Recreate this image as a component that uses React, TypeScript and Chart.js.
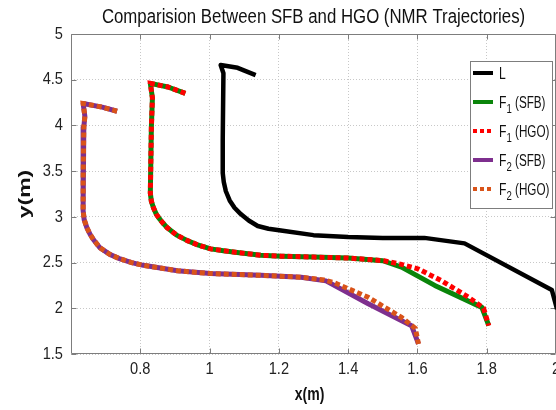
import React, { useEffect, useRef } from "react";
import { Chart, registerables } from "chart.js";

Chart.register(...registerables);

const titleText = "Comparision Between SFB and HGO (NMR Trajectories)";
const xAxisLabel = "x(m)";
const yAxisLabel = "y(m)";
const xTickValues = [0.8, 1, 1.2, 1.4, 1.6, 1.8, 2];
const yTickValues = [1.5, 2, 2.5, 3, 3.5, 4, 4.5, 5];

// L trajectory
const lX = [1.133, 1.081, 1.032, 1.04, 1.038, 1.038, 1.041, 1.047, 1.058, 1.072, 1.09, 1.113, 1.139, 1.17, 1.206, 1.3, 1.4, 1.5, 1.62, 1.736, 1.988, 2.003];
const lY = [4.55, 4.63, 4.66, 4.57, 3.84, 3.48, 3.38, 3.28, 3.18, 3.1, 3.03, 2.96, 2.9, 2.87, 2.85, 2.8, 2.78, 2.77, 2.77, 2.71, 2.2, 1.99];

// F1 (SFB)
const f1sX = [0.93, 0.88, 0.829, 0.835, 0.832, 0.829, 0.832, 0.838, 0.846, 0.855, 0.866, 0.878, 0.905, 0.936, 0.968, 1.003, 1.04, 1.08, 1.148, 1.206, 1.3, 1.4, 1.5, 1.554, 1.65, 1.786, 1.806];
const f1sY = [4.35, 4.42, 4.46, 4.3, 3.98, 3.26, 3.17, 3.1, 3.03, 2.98, 2.93, 2.88, 2.8, 2.74, 2.69, 2.65, 2.63, 2.61, 2.58, 2.57, 2.56, 2.55, 2.52, 2.45, 2.25, 2.01, 1.81];

// F1 (HGO)
const f1hX = [0.93, 0.88, 0.829, 0.835, 0.832, 0.829, 0.832, 0.838, 0.846, 0.855, 0.866, 0.878, 0.905, 0.936, 0.968, 1.003, 1.04, 1.08, 1.148, 1.206, 1.3, 1.4, 1.504, 1.554, 1.603, 1.67, 1.748, 1.791, 1.806];
const f1hY = [4.35, 4.42, 4.46, 4.3, 3.98, 3.26, 3.17, 3.1, 3.03, 2.98, 2.93, 2.88, 2.8, 2.74, 2.69, 2.65, 2.63, 2.61, 2.58, 2.57, 2.56, 2.55, 2.52, 2.48, 2.43, 2.3, 2.12, 2.0, 1.81];

// F2 (SFB)
const f2sX = [0.733, 0.69, 0.635, 0.64, 0.637, 0.635, 0.635, 0.638, 0.646, 0.655, 0.665, 0.684, 0.712, 0.742, 0.775, 0.809, 0.907, 1.003, 1.148, 1.264, 1.336, 1.458, 1.583, 1.603];
const f2sY = [4.155, 4.2, 4.24, 4.1, 3.98, 3.43, 3.07, 2.97, 2.88, 2.81, 2.75, 2.66, 2.59, 2.54, 2.5, 2.47, 2.41, 2.38, 2.36, 2.34, 2.3, 2.05, 1.81, 1.61];

// F2 (HGO)
const f2hX = [0.733, 0.69, 0.635, 0.64, 0.637, 0.635, 0.635, 0.638, 0.646, 0.655, 0.665, 0.684, 0.712, 0.742, 0.775, 0.809, 0.907, 1.003, 1.148, 1.264, 1.33, 1.36, 1.458, 1.554, 1.594, 1.603];
const f2hY = [4.155, 4.2, 4.24, 4.1, 3.98, 3.43, 3.07, 2.97, 2.88, 2.81, 2.75, 2.66, 2.59, 2.54, 2.5, 2.47, 2.41, 2.38, 2.36, 2.34, 2.31, 2.28, 2.12, 1.9, 1.78, 1.61];

const legendMain = ["L", "F", "F", "F", "F"];
const legendSub = ["", "1", "1", "2", "2"];
const legendRest = ["", " (SFB)", " (HGO)", " (SFB)", " (HGO)"];

const BLACK = "#000000";
const GREEN = "#0a850a";
const RED = "#ff0000";
const PURPLE = "#7e2f8e";
const ORANGE = "#d95319";
const legendColors = [BLACK, GREEN, RED, PURPLE, ORANGE];
const legendDash: number[][] = [[], [], [4, 3], [], [4, 3]];

const SANS = "'Liberation Sans', Arial, sans-serif";

function pts(xs: number[], ys: number[]) {
  return xs.map((x, i) => ({ x, y: ys[i] }));
}

function drawText(
  ctx: CanvasRenderingContext2D,
  text: string,
  x: number,
  y: number,
  font: string,
  sx: number,
  align: CanvasTextAlign,
  baseline: CanvasTextBaseline,
  color: string
) {
  ctx.save();
  ctx.translate(x, y);
  ctx.scale(sx, 1);
  ctx.font = font;
  ctx.textAlign = align;
  ctx.textBaseline = baseline;
  ctx.fillStyle = color;
  ctx.fillText(text, 0, 0);
  const w = ctx.measureText(text).width * sx;
  ctx.restore();
  return w;
}

const decorPlugin = {
  id: "decor",
  beforeDatasetsDraw(chart: any) {
    const { ctx, chartArea: a, scales } = chart;
    ctx.save();
    ctx.strokeStyle = "#7d7d7d";
    ctx.lineWidth = 1;
    ctx.setLineDash([]);
    const l = Math.round(a.left) + 0.5;
    const r = Math.round(a.right) - 0.5;
    const t = Math.round(a.top) + 0.5;
    const b = Math.round(a.bottom) - 0.5;
    ctx.beginPath();
    ctx.moveTo(l, t);
    ctx.lineTo(r, t);
    ctx.lineTo(r, b);
    ctx.lineTo(l, b);
    ctx.closePath();
    for (const v of xTickValues) {
      const px = Math.round(scales.x.getPixelForValue(v)) + 0.5;
      ctx.moveTo(px, b);
      ctx.lineTo(px, b - 5);
      ctx.moveTo(px, t);
      ctx.lineTo(px, t + 5);
    }
    for (const v of yTickValues) {
      const py = Math.round(scales.y.getPixelForValue(v)) + 0.5;
      ctx.moveTo(l, py);
      ctx.lineTo(l + 5, py);
      ctx.moveTo(r, py);
      ctx.lineTo(r - 5, py);
    }
    ctx.stroke();
    ctx.restore();

    // tick labels from the library's scales
    const tickFont = `17px ${SANS}`;
    for (const v of xTickValues) {
      const px = scales.x.getPixelForValue(v);
      drawText(ctx, String(v), px, a.bottom + 15, tickFont, 0.86, "center", "middle", "#222");
    }
    for (const v of yTickValues) {
      const py = scales.y.getPixelForValue(v);
      drawText(ctx, String(v), a.left - 8, py, tickFont, 0.86, "right", "middle", "#222");
    }
  },
  afterDraw(chart: any) {
    const { ctx, chartArea: a } = chart;
    ctx.save();
    // title
    drawText(ctx, titleText, (a.left + a.right) / 2, 23, `20px ${SANS}`, 0.84, "center", "alphabetic", "#111");
    // x title
    drawText(ctx, xAxisLabel, (a.left + a.right) / 2 - 4, 400, `bold 19px ${SANS}`, 0.74, "center", "alphabetic", "#111");

    // y title (rotated, compressed in thickness)
    ctx.save();
    ctx.translate(a.left - 45, (a.top + a.bottom) / 2);
    ctx.rotate(-Math.PI / 2);
    ctx.scale(1, 0.7);
    ctx.font = `bold 23px ${SANS}`;
    ctx.fillStyle = "#111";
    ctx.textAlign = "center";
    ctx.textBaseline = "middle";
    ctx.fillText(yAxisLabel, 0, 0);
    ctx.restore();

    // legend
    const bx = 470;
    const by = 61;
    const bw = 82;
    const bh = 147;
    ctx.fillStyle = "#ffffff";
    ctx.fillRect(bx, by, bw, bh);
    ctx.strokeStyle = "#7d7d7d";
    ctx.lineWidth = 1;
    ctx.strokeRect(bx + 0.5, by + 0.5, bw, bh);
    for (let i = 0; i < legendMain.length; i++) {
      const y = by + 12 + i * 29;
      ctx.beginPath();
      ctx.strokeStyle = legendColors[i];
      ctx.lineWidth = 4;
      ctx.setLineDash(legendDash[i]);
      ctx.moveTo(bx + 3, y);
      ctx.lineTo(bx + 23, y);
      ctx.stroke();
      ctx.setLineDash([]);
      let x = bx + 29;
      x += drawText(ctx, legendMain[i], x, y + 6, `16px ${SANS}`, 0.76, "left", "alphabetic", "#111");
      if (legendSub[i]) {
        x += drawText(ctx, legendSub[i], x, y + 11, `12px ${SANS}`, 0.8, "left", "alphabetic", "#111");
        drawText(ctx, legendRest[i], x, y + 6, `16px ${SANS}`, 0.73, "left", "alphabetic", "#111");
      }
    }
    ctx.restore();
  },
};

export default function App() {
  const ref = useRef<HTMLCanvasElement | null>(null);
  useEffect(() => {
    const canvas = ref.current;
    if (!canvas) return;
    const common = { pointRadius: 0, pointHoverRadius: 0, fill: false, tension: 0 };
    const chart = new Chart(canvas, {
      type: "scatter",
      data: {
        datasets: [
          { label: "L", data: pts(lX, lY), showLine: true, borderColor: BLACK, borderWidth: 4.5, order: 3, borderJoinStyle: "round", ...common },
          { label: "F1 (SFB)", data: pts(f1sX, f1sY), showLine: true, borderColor: GREEN, borderWidth: 5, order: 2, borderJoinStyle: "round", ...common },
          { label: "F1 (HGO)", data: pts(f1hX, f1hY), showLine: true, borderColor: RED, borderWidth: 5, borderDash: [5, 3], order: 1, ...common },
          { label: "F2 (SFB)", data: pts(f2sX, f2sY), showLine: true, borderColor: PURPLE, borderWidth: 5, order: 2, borderJoinStyle: "round", ...common },
          { label: "F2 (HGO)", data: pts(f2hX, f2hY), showLine: true, borderColor: ORANGE, borderWidth: 5, borderDash: [5, 3], order: 1, ...common },
        ],
      },
      options: {
        responsive: false,
        animation: false,
        devicePixelRatio: 1,
        layout: { padding: { top: 34, left: 0, right: 0, bottom: 0 } },
        plugins: {
          legend: { display: false },
          title: { display: false },
          tooltip: { enabled: false },
        },
        scales: {
          x: {
            type: "linear",
            min: 0.6,
            max: 2.0,
            afterBuildTicks: (s: any) => {
              s.ticks = xTickValues.map((v) => ({ value: v }));
            },
            afterFit: (s: any) => {
              s.height = 56;
              s.paddingLeft = 0;
              s.paddingRight = 0;
            },
            grid: { color: "#c8c8c8", lineWidth: 1, drawTicks: false },
            border: { display: false, dash: [1, 2] },
            ticks: { display: false },
          },
          y: {
            type: "linear",
            min: 1.5,
            max: 5,
            afterBuildTicks: (s: any) => {
              s.ticks = yTickValues.map((v) => ({ value: v }));
            },
            afterFit: (s: any) => {
              s.width = 71;
              s.paddingTop = 0;
              s.paddingBottom = 0;
            },
            grid: { color: "#c8c8c8", lineWidth: 1, drawTicks: false },
            border: { display: false, dash: [1, 2] },
            ticks: { display: false },
          },
        },
      },
      plugins: [decorPlugin],
    });
    return () => chart.destroy();
  }, []);
  return (
    <div style={{ position: "fixed", left: 0, top: 0, width: 556, height: 410, overflow: "hidden", background: "#fff" }}>
      <canvas ref={ref} width={556} height={410} style={{ width: 556, height: 410, display: "block" }} />
    </div>
  );
}
